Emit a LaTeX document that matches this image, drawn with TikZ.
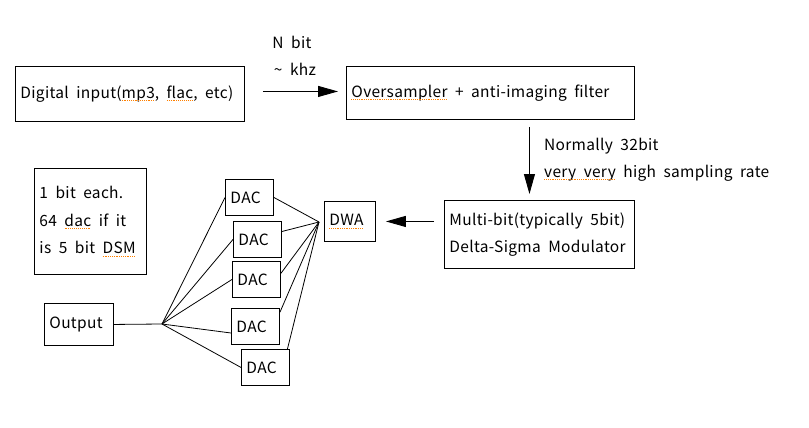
\documentclass[tikz,border=0pt]{standalone}
\usepackage{fontspec}
\setmainfont[LetterSpace=2]{Noto Sans CJK KR}
\usetikzlibrary{arrows.meta}
\newsavebox\splbox
\newcommand\spl[1]{\sbox\splbox{#1}\rlap{\usebox\splbox}\raisebox{-2.8pt}{\textcolor{orange}{\hbox to\wd\splbox{\xleaders\hbox{\rule{1pt}{0.7pt}\kern0.8pt}\hfill}}}}
\newcommand\nodefnt{\fontsize{15.5}{27.5}\selectfont\spaceskip=7.5pt\relax}
\newcommand\widesp{\spaceskip=7.5pt\relax}
\begin{document}
\begin{tikzpicture}[x=1pt,y=-1pt,
  every node/.style={font=\nodefnt},
  box/.style={draw, line width=0.9pt, inner xsep=5pt, inner ysep=0pt, align=left, anchor=north west, execute at begin node=\widesp},
  lbl/.style={inner sep=0pt},
  conn/.style={line width=0.8pt},
  arr/.style={line width=0.9pt, -{Triangle[length=20pt,width=11pt]}}]
\useasboundingbox (0,0) rectangle (809,428);
% main chain
\node[box, minimum width=229pt, minimum height=55pt, text width=219pt] (dig) at (15,66) {Digital input(\spl{mp3}, \spl{flac}, etc)};
\node[box, minimum width=288pt, minimum height=53pt, text width=278pt] (ovs) at (346,66) {\spl{Oversampler} + anti-imaging filter};
\node[box, minimum width=190pt, minimum height=68pt, text width=180pt] (mul) at (444,200) {Multi-bit(typically 5bit)\\Delta-Sigma Modulator};
\node[box, minimum width=51pt, minimum height=40pt, text width=41pt] (dwa) at (324,201) {\spl{DWA}};
\node[box, minimum width=112pt, minimum height=106pt, text width=102pt] (note) at (34,168) {1 bit each.\\64 \spl{dac} if it\\is 5 bit \spl{DSM}};
\node[box, minimum width=69pt, minimum height=42pt, text width=59pt] (out) at (44,303) {Output};
% DACs
\node[box, minimum width=48pt, minimum height=36pt, text width=38pt] (d1) at (225,179) {DAC};
\node[box, minimum width=48pt, minimum height=36pt, text width=38pt] (d2) at (233,221) {DAC};
\node[box, minimum width=48pt, minimum height=36pt, text width=38pt] (d3) at (232,261) {DAC};
\node[box, minimum width=48pt, minimum height=36pt, text width=38pt] (d4) at (231,308) {DAC};
\node[box, minimum width=48pt, minimum height=36pt, text width=38pt] (d5) at (241,349) {DAC};
% labels
\node[lbl] (l1) at (292,42) {N bit};
\node[lbl] (l2) at (295,69) {\textasciitilde\ khz};
\node[lbl, anchor=west] (l3) at (544,146) {Normally 32bit};
\node[lbl, anchor=west] (l4) at (544,173) {\spl{very very} high sampling rate};
% arrows
\draw[arr] ([shift={(18pt,2.5pt)}]dig.east) -- ([shift={(-8pt,1.5pt)}]ovs.west);
\draw[arr] ([shift={(39pt,-7pt)}]ovs.south) -- ([shift={(-10pt,6pt)}]mul.north);
\draw[arr, shorten <=10pt, shorten >=10pt] (mul.west |- dwa.east) -- (dwa.east);
% fan-out
\coordinate (hl) at (162,324);
\coordinate (hr) at (319,222);
\draw[conn] (out.east) -- (hl);
\draw[conn] (hl) -- (d1.west);
\draw[conn] (hl) -- (d2.west);
\draw[conn] (hl) -- (d3.west);
\draw[conn] (hl) -- (d4.195);
\draw[conn] (hl) -- (d5.west);
\draw[conn] (hr) -- (d1.east);
\draw[conn] (hr) -- (d2.18);
\draw[conn] (hr) -- (d3.14);
\draw[conn] (hr) -- (d4.30);
\draw[conn] (hr) -- (d5.40);
\end{tikzpicture}
\end{document}
